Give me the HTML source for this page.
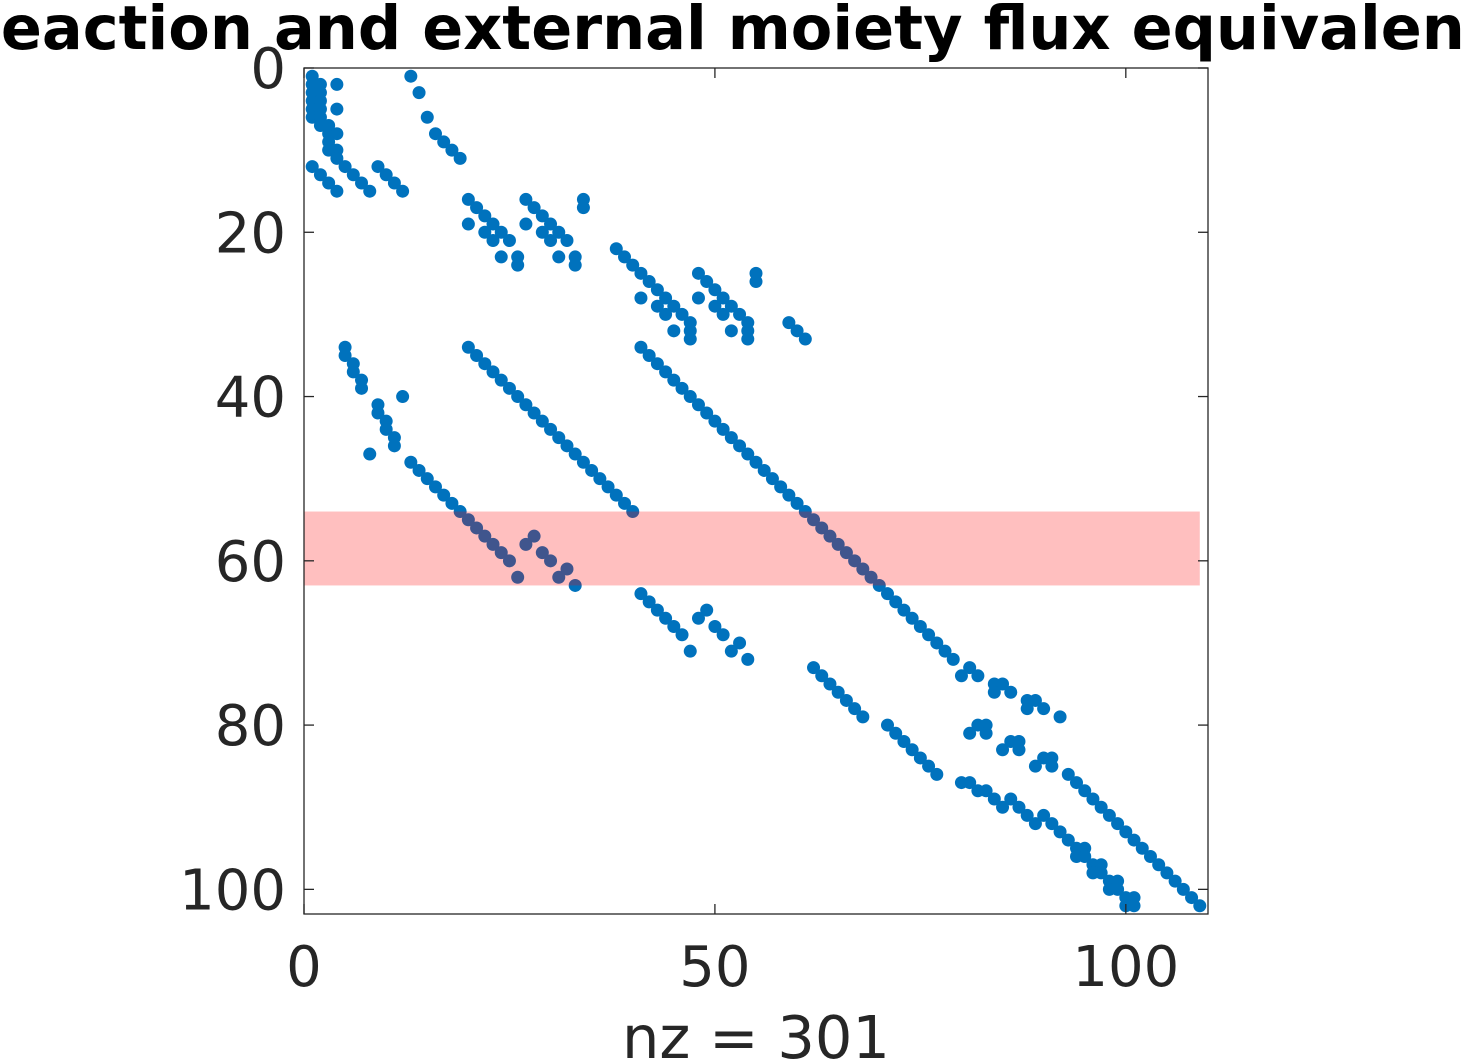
<!DOCTYPE html>
<html><head><meta charset="utf-8"><style>html,body{margin:0;padding:0;background:#fff;width:1462px;height:1063px;overflow:hidden}</style></head>
<body>
<svg id="chart" width="1462" height="1063" xmlns="http://www.w3.org/2000/svg" font-family="DejaVu Sans, Liberation Sans, sans-serif"></svg>
<script>
const nRows = 102, nCols = 109;
const colIdx = [];
const rowIdx = [];
function addPts(list){for(const p of list){colIdx.push(p[0]);rowIdx.push(p[1]);}}
addPts([[1,1],[1,2],[1,3],[1,4],[1,5],[1,6],[2,2],[2,3],[2,4],[2,5],[2,6],[2,7],[4,2],[4,5],[3,7],[3,8],[4,8],[3,9],[3,10],[4,10],[4,11],[5,12],[6,13],[7,14],[8,15],
[1,12],[2,13],[3,14],[4,15],[9,12],[10,13],[11,14],[12,15],
[13,1],[14,3],[15,6],[16,8],[17,9],[18,10],[19,11],
[20,16],[21,17],[22,18],[23,19],[24,20],[25,21],[26,23],[26,24],[20,19],[22,20],[23,21],[24,23],
[27,16],[28,17],[29,18],[30,19],[31,20],[32,21],[33,23],[33,24],[27,19],[29,20],[30,21],[31,23],[34,16],[34,17],
[38,22],[39,23],[40,24],[41,25],[42,26],[43,27],[44,28],[45,29],[46,30],[47,31],[41,28],[43,29],[44,30],[45,32],[47,32],[47,33],
[48,25],[49,26],[50,27],[51,28],[52,29],[53,30],[54,31],[48,28],[50,29],[51,30],[52,32],[54,32],[54,33],[55,25],[55,26],[59,31],[60,32],[61,33],
[5,34],[5,35],[6,36],[6,37],[7,38],[7,39],[9,41],[9,42],[10,43],[10,44],[11,45],[11,46],[12,40],[8,47],
[13,48],[14,49],[15,50],[16,51],[17,52],[18,53],[19,54],[20,55],[21,56],[22,57],[23,58],[24,59],[25,60],[26,62],
[27,58],[28,57],[29,59],[30,60],[31,62],[32,61],[33,63],
[41,64],[42,65],[43,66],[44,67],[45,68],[46,69],[47,71],[48,67],[49,66],[50,68],[51,69],[52,71],[53,70],[54,72],
[62,73],[63,74],[64,75],[65,76],[66,77],[67,78],[68,79],[71,80],[72,81],[73,82],[74,83],[75,84],[76,85],[77,86],
[81,73],[80,74],[82,74],[84,75],[85,75],[84,76],[86,76],[88,77],[89,77],[88,78],[90,78],[92,79],
[81,81],[82,80],[83,80],[83,81],[85,83],[86,82],[87,82],[87,83],[89,85],[90,84],[91,84],[91,85],
[80,87],[81,87],[82,88],[83,88],[84,89],[85,90],[86,89],[87,90],[88,91],[89,92],[90,91],[91,92],[92,93],[93,94],
[94,95],[95,95],[94,96],[95,96],[96,97],[97,97],[96,98],[97,98],[98,99],[99,99],[98,100],[99,100],[100,101],[101,101],[100,102],[101,102]]);
for(let r=34;r<=54;r++){colIdx.push(r-14);rowIdx.push(r);}
for(let r=34;r<=72;r++){colIdx.push(r+7);rowIdx.push(r);}
for(let r=86;r<=102;r++){colIdx.push(r+7);rowIdx.push(r);}
const bandRows = [54, 63];
const xTicks = [0,50,100];
const yTicks = [0,20,40,60,80,100];
const nzLabel = "nz = 301";

const L=304,R=1208,T=68,B=914;
const sx=v=>L+(v)*(R-L)/(nCols+1);
const sy=v=>T+(v)*(B-T)/(nRows+1);
const NS="http://www.w3.org/2000/svg";
const svg=document.getElementById('chart');
function mk(tag,attrs,parent){const e=document.createElementNS(NS,tag);for(const k in attrs)e.setAttribute(k,attrs[k]);(parent||svg).appendChild(e);return e;}
const dots=mk('g',{});


for(let i=0;i<colIdx.length;i++){
  const c=mk('circle',{cx:sx(colIdx[i]),cy:sy(rowIdx[i]),r:6.5,fill:'#0072BD'},dots);
  
  
}
const band=mk('rect',{x:sx(0),y:sy(bandRows[0]),width:sx(nCols)-sx(0),height:sy(bandRows[1])-sy(bandRows[0]),fill:'#ff0000','fill-opacity':0.25});


const box=mk('rect',{x:L,y:T,width:R-L,height:B-T,fill:'none',stroke:'#262626','stroke-width':1.3});


for(const t of xTicks){
  const x=sx(t);
  mk('line',{x1:x,y1:B,x2:x,y2:B-10,stroke:'#262626','stroke-width':1.3});
  mk('line',{x1:x,y1:T,x2:x,y2:T+10,stroke:'#262626','stroke-width':1.3});
  const tx=mk('text',{x:x,y:986,'text-anchor':'middle','font-size':56,fill:'#262626'});
  tx.textContent=t;
  
  
}
for(const t of yTicks){
  const y=sy(t);
  mk('line',{x1:L,y1:y,x2:L+10,y2:y,stroke:'#262626','stroke-width':1.3});
  mk('line',{x1:R,y1:y,x2:R-10,y2:y,stroke:'#262626','stroke-width':1.3});
  const ty=mk('text',{x:286,y:y+20,'text-anchor':'end','font-size':56,fill:'#262626'});
  ty.textContent=t;
  
  
}
const xl=mk('text',{x:756,y:1058,'text-anchor':'middle','font-size':59,fill:'#262626'});
xl.textContent=nzLabel;


const ti=mk('text',{x:748,y:49,'text-anchor':'middle','font-size':60.5,'font-weight':'bold',fill:'#000'});
ti.textContent="Reaction and external moiety flux equivalence";


</script>
</body></html>
